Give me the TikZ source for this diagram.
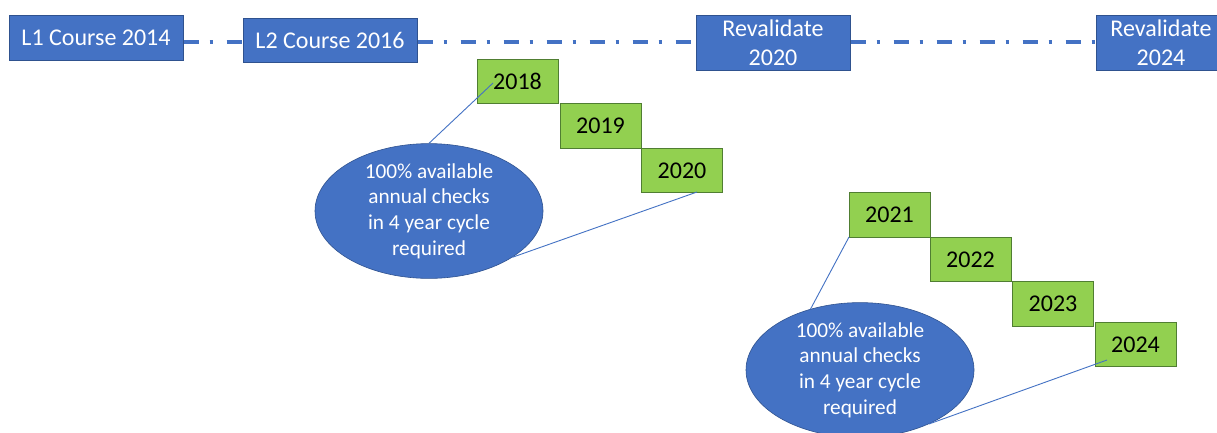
\documentclass[tikz,border=0pt]{standalone}
\usepackage{fontspec}
\setmainfont{Carlito}
\usetikzlibrary{shapes.geometric}
\definecolor{obl}{HTML}{4472C4}
\definecolor{oblb}{HTML}{2F528F}
\definecolor{ogr}{HTML}{92D050}
\definecolor{ogrb}{HTML}{507E32}
\tikzset{
  bluebox/.style={draw=oblb, line width=1pt, fill=obl, text=white, inner sep=0pt, align=center,
    font=\fontsize{24}{29}\selectfont},
  yearbox/.style={draw=ogrb, line width=1pt, fill=ogr, text=black, inner sep=0pt,
    minimum width=81pt, minimum height=44.5pt, font=\fontsize{24}{29}\selectfont},
  note/.style={ellipse, draw=oblb, line width=0.6pt, fill=obl, text=white, inner sep=0pt,
    minimum width=228pt, minimum height=122pt, align=center, font=\fontsize{21.3}{25.7}\selectfont},
  timeline/.style={draw=obl, line width=3.5pt, dash pattern=on 15pt off 11pt on 3.5pt off 13.5pt},
  pointer/.style={draw=obl, line width=0.9pt}
}
\begin{document}
\begin{tikzpicture}[x=1pt,y=-1pt]
\clip (0,0) rectangle (1217,432);
\fill[white] (0,0) rectangle (1217,432);
% top row
\node[bluebox, minimum width=174pt, minimum height=45pt] (l1) at (96,37.5) {L1 Course 2014};
\node[bluebox, minimum width=174pt, minimum height=44pt] (l2) at (330,40) {L2 Course 2016};
\node[bluebox, minimum width=154pt, minimum height=55pt] (r20) at (773,42.5) {Revalidate\\2020};
\node[bluebox, minimum width=130pt, minimum height=55pt] (r24) at (1161,42.5) {Revalidate\\2024};
\draw[timeline] (l1.east |- 0,42) -- (l2.west |- 0,42);
\draw[timeline] (l2.east |- 0,42) -- (r20.west |- 0,42);
\draw[timeline] (r20.east |- 0,42) -- (r24.west |- 0,42);
% first cycle
\node[yearbox] (y18) at (517.5,81.5) {2018};
\node[yearbox] (y19) at (600.5,126) {2019};
\node[yearbox] (y20) at (682,170.5) {2020};
\node[note] (e1) at (429,211) {100\% available\\annual checks\\in 4 year cycle\\required};
% second cycle
\node[yearbox] (y21) at (889.5,215) {2021};
\node[yearbox] (y22) at (970.5,259.5) {2022};
\node[yearbox] (y23) at (1053,304) {2023};
\node[yearbox] (y24) at (1135.5,344.5) {2024};
\node[note] (e2) at (860,370) {100\% available\\annual checks\\in 4 year cycle\\required};
% pointers
\coordinate (t18) at (493,83);
\coordinate (t20) at (697,192);
\coordinate (t21) at (849,237);
\coordinate (t24) at (1107,360);
\draw[pointer] (e1.north) -- (t18);
\draw[pointer] (e1.-29) -- (t20);
\draw[pointer] (e2.129) -- (t21);
\draw[pointer] (e2.-38) -- (t24);
\end{tikzpicture}
\end{document}
